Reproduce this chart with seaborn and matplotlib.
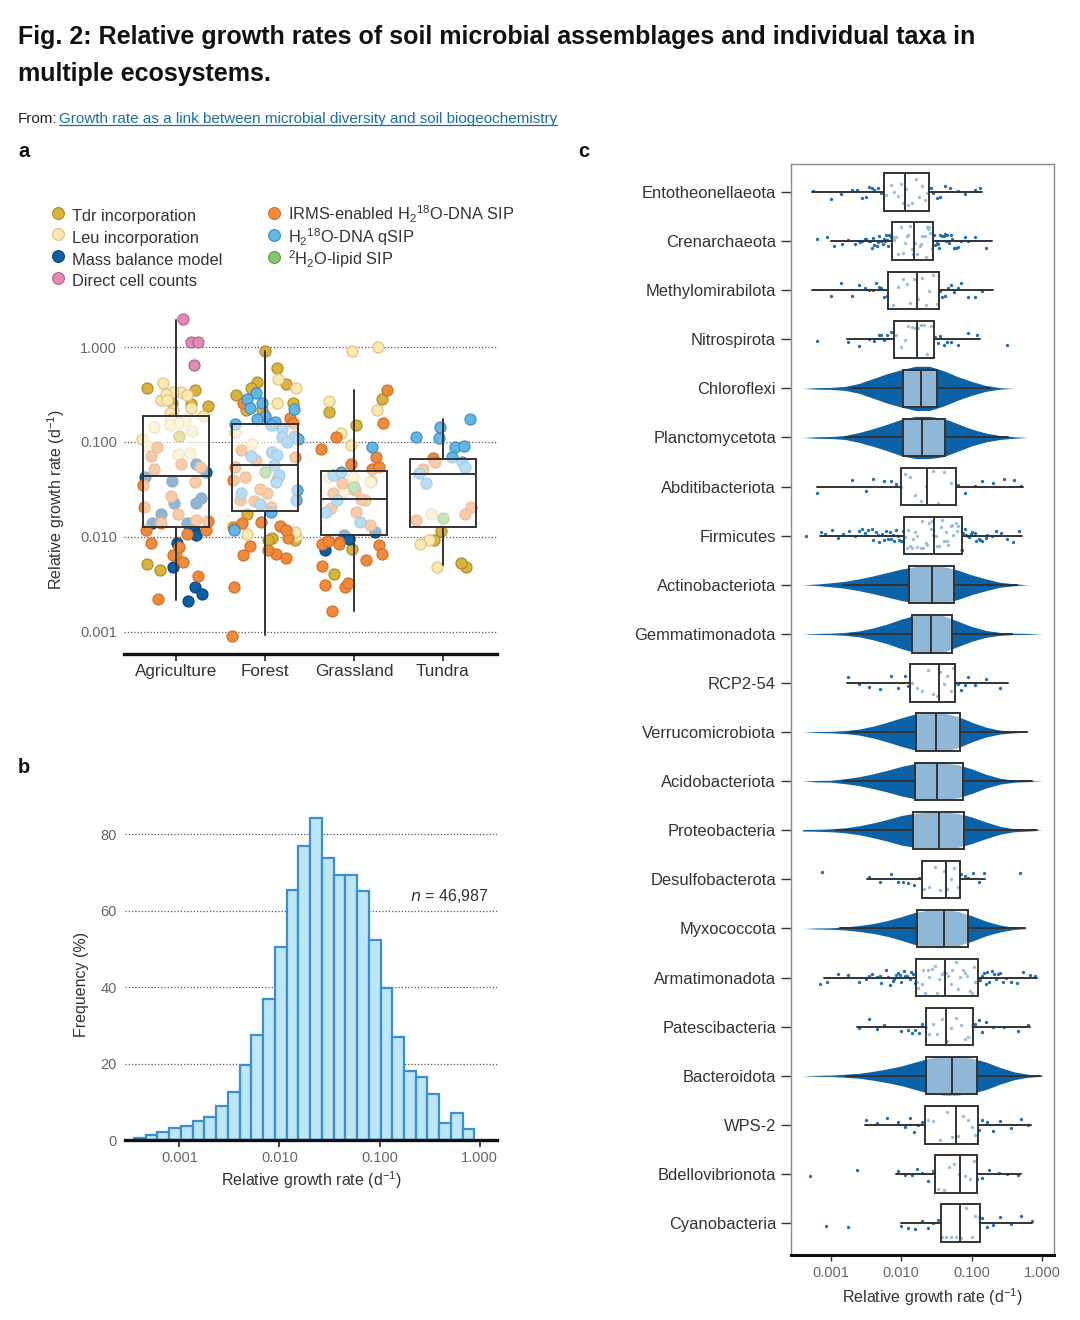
import numpy as np
import pandas as pd
import matplotlib
matplotlib.use("Agg")
import matplotlib.pyplot as plt
from matplotlib.lines import Line2D
from matplotlib.ticker import NullLocator
import seaborn as sns

# ---------------- panel a data (relative growth rate, d-1) ----------------
ecos = ["Agriculture", "Forest", "Grassland", "Tundra"]

tdr = {
    "Agriculture": [0.37, 0.35, 0.26, 0.25, 0.24, 0.117, 0.0064, 0.0052, 0.0045],
    "Forest": [0.908, 0.6, 0.41, 0.43, 0.31, 0.37, 0.26, 0.215, 0.215, 0.117,
               0.0127, 0.0097, 0.0093, 0.0175, 0.0093],
    "Grassland": [0.286, 0.207, 0.15, 0.039, 0.0244, 0.0075, 0.0041, 0.034, 0.031],
    "Tundra": [0.0116, 0.0094, 0.0048, 0.0053],
}
leu = {
    "Agriculture": [0.42, 0.34, 0.275, 0.34, 0.32, 0.31, 0.275, 0.215, 0.23, 0.2,
                    0.19, 0.144, 0.13, 0.16, 0.175, 0.17, 0.16, 0.15, 0.108, 0.091,
                    0.077, 0.074],
    "Forest": [0.465, 0.37, 0.26, 0.127, 0.096, 0.078, 0.0108, 0.0102, 0.0112],
    "Grassland": [1.0, 0.91, 0.215, 0.27, 0.125, 0.092, 0.038, 0.043, 0.043, 0.03],
    "Tundra": [0.0175, 0.0093, 0.0084, 0.0048],
}
mass = {
    "Agriculture": [0.039, 0.0112, 0.0104, 0.0087, 0.0048, 0.003, 0.0025, 0.0021,
                    0.058, 0.048, 0.043, 0.026, 0.0175, 0.023, 0.0228, 0.0133,
                    0.014, 0.014],
    "Forest": [],
    "Grassland": [0.0073, 0.0104, 0.0112, 0.0095],
    "Tundra": [],
}
direct = {"Agriculture": [1.96, 1.13, 1.13, 0.64], "Forest": [], "Grassland": [], "Tundra": []}
irms = {
    "Agriculture": [0.035, 0.027, 0.0064, 0.0118, 0.0078, 0.0055, 0.0039, 0.0118,
                    0.0086, 0.0022, 0.0108, 0.072, 0.088, 0.059, 0.052, 0.038,
                    0.054, 0.0205, 0.0175, 0.015, 0.0148, 0.0142],
    "Forest": [0.26, 0.18, 0.16, 0.043, 0.0145, 0.013, 0.0097, 0.0064, 0.0067,
               0.0118, 0.0073, 0.014, 0.012, 0.0081, 0.006, 0.003, 0.00091, 0.064,
               0.055, 0.082, 0.0395, 0.029, 0.043, 0.032, 0.0245, 0.024, 0.0206, 0.07],
    "Grassland": [0.355, 0.113, 0.085, 0.07, 0.158, 0.059, 0.052, 0.054, 0.0253,
                  0.0082, 0.0085, 0.0088, 0.0084, 0.009, 0.0067, 0.005, 0.0057,
                  0.0031, 0.003, 0.0033, 0.00166, 0.031, 0.0183, 0.037, 0.0135,
                  0.02, 0.029],
    "Tundra": [0.068, 0.062, 0.052, 0.0205, 0.0175, 0.015],
}
qsip = {
    "Agriculture": [],
    "Forest": [0.33, 0.284, 0.257, 0.23, 0.19, 0.225, 0.176, 0.162, 0.15, 0.138,
               0.155, 0.113, 0.113, 0.078, 0.072, 0.073, 0.0445, 0.038, 0.029,
               0.031, 0.0245, 0.022, 0.0183, 0.0119, 0.108, 0.1, 0.057],
    "Grassland": [0.088, 0.045, 0.048, 0.0244, 0.0145, 0.0183],
    "Tundra": [0.173, 0.144, 0.11, 0.113, 0.088, 0.09, 0.069, 0.037, 0.062, 0.047, 0.055],
}
lipid = {"Agriculture": [], "Forest": [0.048], "Grassland": [0.034], "Tundra": [0.016]}

# box statistics per ecosystem
a_wlo = [0.00215, 0.00092, 0.00166, 0.00503]
a_q1 = [0.0128, 0.0188, 0.0104, 0.0126]
a_med = [0.0435, 0.0577, 0.0251, 0.0457]
a_q3 = [0.189, 0.153, 0.0495, 0.0668]
a_whi = [1.94, 0.908, 0.356, 0.173]

# ---------------- panel b data ----------------
b_freq = [0.4, 1.3, 2.0, 3.1, 3.7, 5.0, 6.1, 9.0, 12.6, 19.6, 27.4, 36.8, 50.5,
          65.4, 77.1, 84.2, 73.9, 69.3, 69.5, 65.2, 52.4, 39.9, 26.9, 18.1, 16.5,
          12.0, 4.5, 7.0, 3.0]
b_first_edge = -3.453   # log10 of the first bin edge
b_bin_width = 0.1173    # bin width in log10 units

# ---------------- panel c data (log10 of growth rate) ----------------
taxa = ["Entotheonellaeota", "Crenarchaeota", "Methylomirabilota", "Nitrospirota",
        "Chloroflexi", "Planctomycetota", "Abditibacteriota", "Firmicutes",
        "Actinobacteriota", "Gemmatimonadota", "RCP2-54", "Verrucomicrobiota",
        "Acidobacteriota", "Proteobacteria", "Desulfobacterota", "Myxococcota",
        "Armatimonadota", "Patescibacteria", "Bacteroidota", "WPS-2",
        "Bdellovibrionota", "Cyanobacteria"]
c_wlo = [-3.26, -2.99, -3.26, -2.77, -2.73, -2.8, -3.19, -3.15, -2.82, -2.72, -2.77,
         -2.72, -2.82, -2.92, -2.49, -2.87, -3.1, -2.62, -2.78, -2.52, -2.07, -2.0]
c_q1 = [-2.25, -2.13, -2.19, -2.10, -1.98, -1.97, -2.01, -1.96, -1.89, -1.85, -1.88,
        -1.79, -1.81, -1.84, -1.70, -1.77, -1.79, -1.65, -1.65, -1.67, -1.52, -1.44]
c_med = [-1.95, -1.82, -1.78, -1.77, -1.72, -1.70, -1.63, -1.53, -1.57, -1.58, -1.47,
         -1.51, -1.50, -1.47, -1.37, -1.39, -1.38, -1.36, -1.28, -1.22, -1.17, -1.17]
c_q3 = [-1.60, -1.55, -1.46, -1.54, -1.49, -1.38, -1.22, -1.14, -1.25, -1.28, -1.24,
        -1.16, -1.13, -1.11, -1.16, -1.06, -0.91, -0.98, -0.93, -0.91, -0.92, -0.89]
c_whi = [-0.86, -0.72, -0.70, -0.89, -0.74, -0.49, -0.28, -0.29, -0.36, -0.43, -0.48,
         -0.22, -0.15, -0.08, -0.81, -0.24, -0.07, -0.17, -0.03, -0.16, -0.30, -0.14]

# individual taxa points for the less abundant phyla
pts_ento = [-3.25, -3.0, -2.86, -2.7, -2.62, -2.56, -2.5, -2.46, -2.41, -2.38, -2.33,
            -2.29, -2.22, -2.15, -2.1, -2.04, -2.0, -1.97, -1.93, -1.9, -1.85, -1.79,
            -1.75, -1.7, -1.66, -1.63, -1.58, -1.55, -1.5, -1.45, -1.38, -1.31, -1.2,
            -1.1, -0.96, -0.88]
pts_cren = [-3.2, -3.05, -2.95, -2.84, -2.75, -2.66, -2.6, -2.55, -2.5, -2.46, -2.42,
            -2.38, -2.35, -2.31, -2.28, -2.25, -2.22, -2.2, -2.17, -2.15, -2.1, -2.05,
            -2.0, -1.95, -1.92, -1.88, -1.85, -1.8, -1.77, -1.72, -1.7, -1.65, -1.62,
            -1.6, -1.57, -1.52, -1.5, -1.48, -1.45, -1.42, -1.38, -1.35, -1.3, -1.25,
            -1.2, -1.1, -0.95, -0.8, -2.58, -2.52, -2.44, -2.4, -2.33, -2.26, -2.23,
            -2.19, -2.12, -2.07, -1.98, -1.9, -1.83, -1.74, -1.67, -1.63, -1.59,
            -1.54, -1.49, -1.46, -1.4, -1.36, -1.32, -1.28, -1.22, -1.15, -1.05]
pts_meth = [-3.0, -2.85, -2.7, -2.6, -2.52, -2.45, -2.4, -2.36, -2.32, -2.28, -2.25,
            -2.2, -2.12, -2.05, -1.98, -1.92, -1.87, -1.82, -1.76, -1.7, -1.65, -1.6,
            -1.55, -1.5, -1.45, -1.42, -1.38, -1.33, -1.3, -1.25, -1.2, -1.15, -1.05,
            -0.95, -0.85]
pts_nitr = [-3.2, -2.75, -2.6, -2.45, -2.38, -2.32, -2.28, -2.24, -2.2, -2.15, -2.08,
            -2.0, -1.95, -1.9, -1.85, -1.8, -1.76, -1.72, -1.68, -1.63, -1.58, -1.52,
            -1.48, -1.45, -1.4, -1.35, -1.3, -1.2, -1.05, -0.92, -0.5]
pts_abdi = [-3.19, -2.7, -2.5, -2.4, -2.25, -2.15, -2.08, -2.0, -1.95, -1.88, -1.8,
            -1.72, -1.65, -1.55, -1.48, -1.4, -1.3, -1.2, -1.1, -0.95, -0.85, -0.7,
            -0.55, -0.4, -0.3]
pts_firm = [-3.35, -3.14, -3.08, -2.98, -2.9, -2.83, -2.74, -2.66, -2.6, -2.51, -2.47,
            -2.4, -2.36, -2.31, -2.27, -2.22, -2.19, -2.14, -2.1, -2.07, -2.03, -1.99,
            -1.95, -1.92, -1.87, -1.83, -1.8, -1.77, -1.72, -1.69, -1.65, -1.61, -1.58,
            -1.55, -1.51, -1.47, -1.44, -1.4, -1.37, -1.33, -1.29, -1.26, -1.22, -1.19,
            -1.15, -1.12, -1.08, -1.04, -0.99, -0.94, -0.9, -0.85, -0.78, -0.72, -0.66,
            -0.58, -0.5, -0.42, -0.33, -2.56, -2.42, -2.33, -2.24, -2.16, -2.11,
            -2.05, -2.01, -1.97, -1.9, -1.85, -1.78, -1.7, -1.63, -1.56, -1.49, -1.42,
            -1.35, -1.28, -1.21, -1.14, -1.1, -1.06, -1.01, -0.96, -0.88, -0.8]
pts_rcp2 = [-2.75, -2.6, -2.45, -2.3, -2.15, -2.05, -1.95, -1.9, -1.85, -1.78, -1.7,
            -1.62, -1.55, -1.5, -1.45, -1.4, -1.35, -1.3, -1.27, -1.24, -1.2, -1.15,
            -1.1, -1.05, -0.95, -0.8, -0.6]
pts_desu = [-3.13, -2.45, -2.3, -2.15, -2.05, -1.98, -1.9, -1.82, -1.75, -1.68, -1.6,
            -1.52, -1.45, -1.4, -1.35, -1.3, -1.25, -1.2, -1.15, -1.1, -1.05, -0.98,
            -0.9, -0.82, -0.32]
pts_arma = [-3.15, -3.05, -2.9, -2.75, -2.6, -2.5, -2.42, -2.35, -2.28, -2.22, -2.16,
            -2.1, -2.05, -2.0, -1.96, -1.92, -1.88, -1.84, -1.8, -1.76, -1.71, -1.66,
            -1.62, -1.57, -1.52, -1.47, -1.42, -1.37, -1.33, -1.28, -1.22, -1.17,
            -1.12, -1.07, -1.02, -0.97, -0.93, -0.88, -0.83, -0.78, -0.72, -0.66,
            -0.6, -0.52, -0.44, -0.36, -0.27, -0.18, -0.1, -2.45, -2.3, -2.19,
            -2.12, -2.07, -2.02, -1.94, -1.86, -1.78, -1.69, -1.6, -1.5, -1.4, -1.3,
            -1.2, -1.1, -1.0, -0.95, -0.9, -0.85, -0.8, -0.75, -0.69, -0.63, -0.56]
pts_pate = [-2.6, -2.45, -2.35, -2.25, -2.0, -1.9, -1.85, -1.8, -1.75, -1.7, -1.65,
            -1.6, -1.55, -1.5, -1.42, -1.35, -1.3, -1.22, -1.15, -1.1, -1.05, -1.0,
            -0.95, -0.9, -0.85, -0.8, -0.7, -0.55, -0.35, -0.2]
pts_wps2 = [-2.5, -2.35, -2.2, -2.05, -1.95, -1.88, -1.82, -1.76, -1.7, -1.62, -1.55,
            -1.45, -1.35, -1.28, -1.2, -1.12, -1.05, -1.0, -0.95, -0.9, -0.85, -0.78,
            -0.7, -0.6, -0.45, -0.3, -0.2]
pts_bdel = [-3.3, -2.62, -2.05, -1.95, -1.85, -1.78, -1.7, -1.62, -1.55, -1.48, -1.4,
            -1.32, -1.25, -1.18, -1.1, -1.03, -0.97, -0.92, -0.85, -0.75, -0.62, -0.5,
            -0.35]
pts_cyan = [-3.07, -2.76, -2.0, -1.9, -1.8, -1.7, -1.62, -1.55, -1.48, -1.42, -1.36,
            -1.3, -1.22, -1.15, -1.08, -1.0, -0.95, -0.9, -0.85, -0.78, -0.7, -0.6,
            -0.45, -0.3, -0.15]

sparse = {"Entotheonellaeota": pts_ento, "Crenarchaeota": pts_cren,
          "Methylomirabilota": pts_meth, "Nitrospirota": pts_nitr,
          "Abditibacteriota": pts_abdi, "Firmicutes": pts_firm, "RCP2-54": pts_rcp2,
          "Desulfobacterota": pts_desu, "Armatimonadota": pts_arma,
          "Patescibacteria": pts_pate, "WPS-2": pts_wps2,
          "Bdellovibrionota": pts_bdel, "Cyanobacteria": pts_cyan}

# half-width of the dense point clouds (category units) along the log10 grid
cloud_grid = [-3.4, -3.2, -3.0, -2.8, -2.6, -2.4, -2.2, -2.0, -1.8, -1.6, -1.4,
              -1.2, -1.0, -0.8, -0.6, -0.4, -0.2, 0.0]
w_chlo = [0, 0.015, 0.02, 0.04, 0.1, 0.2, 0.3, 0.38, 0.45, 0.45, 0.36, 0.24, 0.14, 0.06, 0.015, 0, 0, 0]
w_plan = [0, 0.015, 0.02, 0.04, 0.1, 0.18, 0.27, 0.37, 0.43, 0.43, 0.39, 0.28, 0.17, 0.09, 0.04, 0.015, 0, 0]
w_acti = [0, 0.015, 0.04, 0.07, 0.12, 0.18, 0.25, 0.32, 0.37, 0.38, 0.37, 0.3, 0.2, 0.12, 0.05, 0.02, 0, 0]
w_gemm = [0, 0.01, 0.015, 0.03, 0.06, 0.12, 0.2, 0.3, 0.38, 0.4, 0.37, 0.26, 0.15, 0.07, 0.03, 0.015, 0.01, 0]
w_verr = [0, 0.01, 0.015, 0.03, 0.06, 0.12, 0.2, 0.29, 0.37, 0.39, 0.39, 0.32, 0.2, 0.1, 0.04, 0.015, 0, 0]
w_acid = [0, 0.015, 0.02, 0.05, 0.09, 0.15, 0.22, 0.3, 0.36, 0.37, 0.37, 0.34, 0.25, 0.14, 0.06, 0.02, 0.01, 0]
w_prot = [0.015, 0.02, 0.03, 0.05, 0.09, 0.15, 0.22, 0.3, 0.35, 0.37, 0.37, 0.35, 0.27, 0.17, 0.08, 0.03, 0.015, 0]
w_myxo = [0, 0.01, 0.015, 0.03, 0.06, 0.1, 0.16, 0.24, 0.33, 0.38, 0.39, 0.35, 0.26, 0.15, 0.07, 0.02, 0, 0]
w_bact = [0, 0.01, 0.015, 0.03, 0.05, 0.09, 0.14, 0.2, 0.28, 0.36, 0.39, 0.39, 0.36, 0.28, 0.17, 0.08, 0.03, 0.01]

dense = {"Chloroflexi": w_chlo, "Planctomycetota": w_plan, "Actinobacteriota": w_acti,
         "Gemmatimonadota": w_gemm, "Verrucomicrobiota": w_verr,
         "Acidobacteriota": w_acid, "Proteobacteria": w_prot, "Myxococcota": w_myxo,
         "Bacteroidota": w_bact}

# ---------------- style ----------------
sns.set_theme(style="white")
plt.rcParams["font.family"] = ["Liberation Sans", "DejaVu Sans"]
plt.rcParams["mathtext.default"] = "regular"
plt.rcParams["text.color"] = "#333333"
plt.rcParams["axes.labelcolor"] = "#333333"

W, H = 1080, 1320
def fx(px):
    return px / W
def fy(py):
    return 1 - py / H

fig = plt.figure(figsize=(10.8, 13.2), dpi=100)
fig.patch.set_facecolor("white")

box_kw = dict(patch_artist=True, showfliers=False, showcaps=False, manage_ticks=False,
              boxprops=dict(facecolor=(1, 1, 1, 0.55), edgecolor="#333333", linewidth=1.4),
              whiskerprops=dict(color="#333333", linewidth=1.4),
              medianprops=dict(color="#333333", linewidth=1.4))

# ================= panel a =================
ax_a = fig.add_axes([fx(124), fy(654), fx(373), 354 / H])
methods = [
    ("Tdr incorporation", "#d9b43c", "#a98a22", tdr),
    ("Leu incorporation", "#fbe8b2", "#dcc27a", leu),
    ("Mass balance model", "#0b5fa5", "#07457a", mass),
    ("Direct cell counts", "#e08ab4", "#b5628a", direct),
    (r"IRMS-enabled H$_2$$^{18}$O-DNA SIP", "#f28a3c", "#d06d24", irms),
    (r"H$_2$$^{18}$O-DNA qSIP", "#64b4e6", "#3a8cc6", qsip),
    (r"$^2$H$_2$O-lipid SIP", "#86c56d", "#5c9c48", lipid),
]
np.random.seed(7)
handles = []
for label, face, edge, data in methods:
    xs, ys = [], []
    for e in ecos:
        xs += [e] * len(data[e])
        ys += data[e]
    sns.stripplot(x=xs, y=ys, order=ecos, ax=ax_a, color=face, edgecolor=edge,
                  linewidth=0.8, size=8, jitter=0.38, log_scale=True, zorder=2)
    handles.append(Line2D([], [], ls="", marker="o", markersize=8.5,
                          markerfacecolor=face, markeredgecolor=edge,
                          markeredgewidth=0.8, label=label))

a_stats = [dict(whislo=a_wlo[i], q1=a_q1[i], med=a_med[i], q3=a_q3[i],
                whishi=a_whi[i]) for i in range(len(ecos))]
ax_a.bxp(a_stats, positions=range(len(ecos)), widths=0.75, zorder=3, **box_kw)

ax_a.set_yscale("log")
ax_a.set_ylim(10 ** -3.232, 10 ** 0.495)
ax_a.set_xlim(-0.584, 3.607)
ax_a.set_yticks([0.001, 0.01, 0.1, 1])
ax_a.set_yticklabels(["0.001", "0.010", "0.100", "1.000"])
ax_a.yaxis.set_minor_locator(NullLocator())
ax_a.set_xticks(range(len(ecos)))
ax_a.set_xticklabels(ecos)
ax_a.grid(axis="y", linestyle=(0, (1, 1.6)), color="#555555", linewidth=0.9)
ax_a.grid(axis="x", visible=False)
ax_a.set_axisbelow(True)
ax_a.tick_params(axis="y", length=0, pad=5, labelsize=10.5, labelcolor="#666666")
ax_a.tick_params(axis="x", bottom=True, length=5, width=1.2, color="#222222",
                 labelsize=12.3, pad=2, labelcolor="#333333")
for s in ["left", "right", "top"]:
    ax_a.spines[s].set_visible(False)
ax_a.spines["bottom"].set_linewidth(2.4)
ax_a.spines["bottom"].set_color("#111111")
ax_a.set_xlabel("")
ax_a.set_ylabel("Relative growth rate (d$^{-1}$)", fontsize=11.5)
ax_a.yaxis.set_label_coords(-0.153, 0.435)

fig.legend(handles=handles, ncol=2, loc="upper left",
           bbox_to_anchor=(fx(51), fy(204)), frameon=False, fontsize=11.8,
           handlelength=0.9, handleheight=1.68, handletextpad=0.4,
           labelspacing=0.0, columnspacing=2.7, borderaxespad=0, borderpad=0)

# ================= panel b =================
ax_b = fig.add_axes([fx(125), fy(1140), fx(372), 330 / H])
b_edges = [b_first_edge + b_bin_width * k for k in range(len(b_freq) + 1)]
b_df = pd.DataFrame({"rate": [e + b_bin_width / 2 for e in b_edges[:-1]],
                     "freq": b_freq})
sns.histplot(data=b_df, x="rate", weights="freq", bins=b_edges, ax=ax_b,
             color="#bde6f8", facecolor="#bde6f8", edgecolor="#3b8ed0",
             linewidth=1.6, alpha=1, zorder=2)
ax_b.set_xlim(-3.543, 0.174)
ax_b.set_ylim(0, 86.4)
ax_b.set_xticks([-3, -2, -1, 0])
ax_b.set_xticklabels(["0.001", "0.010", "0.100", "1.000"])
ax_b.set_yticks([0, 20, 40, 60, 80])
ax_b.grid(axis="y", linestyle=(0, (1, 1.6)), color="#555555", linewidth=0.9)
ax_b.grid(axis="x", visible=False)
ax_b.set_axisbelow(True)
ax_b.tick_params(axis="y", length=0, pad=6, labelsize=10.5, labelcolor="#666666")
ax_b.tick_params(axis="x", bottom=True, length=5, width=1.2, color="#222222",
                 labelsize=10.5, pad=3, labelcolor="#666666")
for s in ["left", "right", "top"]:
    ax_b.spines[s].set_visible(False)
ax_b.spines["bottom"].set_linewidth(2.4)
ax_b.spines["bottom"].set_color("#111111")
ax_b.set_xlabel("Relative growth rate (d$^{-1}$)", fontsize=11.5, labelpad=3)
ax_b.set_ylabel("Frequency (%)", fontsize=11.5)
ax_b.yaxis.set_label_coords(-0.097, 0.47)
ax_b.text(-0.693, 63.9, "$\\mathit{n}$ = 46,987", fontsize=11.5, ha="left",
          va="center", color="#333333")

# ================= panel c =================
ax_c = fig.add_axes([fx(790.7), fy(1255), fx(263.6), 1091 / H])
pt_color = "#1f6fb4"
in_x, in_y, out_x, out_y = [], [], [], []
for i, t in enumerate(taxa):
    if t not in sparse:
        continue
    for v in sparse[t]:
        if c_q1[i] <= v <= c_q3[i]:
            in_x.append(10 ** v)
            in_y.append(t)
        else:
            out_x.append(10 ** v)
            out_y.append(t)
sns.stripplot(x=in_x, y=in_y, order=taxa, orient="h", ax=ax_c, color=pt_color,
              size=2.4, linewidth=0, jitter=0.33, log_scale=True, zorder=2)
sns.stripplot(x=out_x, y=out_y, order=taxa, orient="h", ax=ax_c, color=pt_color,
              size=2.4, linewidth=0, jitter=0.15, log_scale=True, zorder=2)

gx = 10 ** np.array(cloud_grid)
for i, t in enumerate(taxa):
    if t in dense:
        w = np.array(dense[t])
        ax_c.fill_between(gx, i - w, i + w, color="#0b62a6", linewidth=0, zorder=1)

c_stats = [dict(whislo=10 ** c_wlo[i], q1=10 ** c_q1[i], med=10 ** c_med[i],
                q3=10 ** c_q3[i], whishi=10 ** c_whi[i]) for i in range(len(taxa))]
ax_c.bxp(c_stats, positions=range(len(taxa)), widths=0.76, orientation="horizontal",
         zorder=3, **box_kw)

ax_c.set_xscale("log")
ax_c.set_xlim(10 ** -3.567, 10 ** 0.17)
ax_c.set_ylim(21.65, -0.57)
ax_c.set_yticks(range(len(taxa)))
ax_c.set_yticklabels(taxa)
ax_c.set_xticks([0.001, 0.01, 0.1, 1])
ax_c.set_xticklabels(["0.001", "0.010", "0.100", "1.000"])
ax_c.xaxis.set_minor_locator(NullLocator())
ax_c.grid(False)
ax_c.tick_params(axis="y", left=True, length=7, width=1, color="#333333",
                 labelsize=11.9, pad=3.5, labelcolor="#333333")
ax_c.tick_params(axis="x", bottom=True, length=4, width=1, color="#333333",
                 labelsize=10.5, pad=4, labelcolor="#666666")
for s in ["left", "right", "top"]:
    ax_c.spines[s].set_color("#8a8a8a")
    ax_c.spines[s].set_linewidth(1.0)
ax_c.spines["bottom"].set_linewidth(2.2)
ax_c.spines["bottom"].set_color("#111111")
ax_c.set_ylabel("")
ax_c.set_xlabel("Relative growth rate (d$^{-1}$)", fontsize=11.5, labelpad=4)
ax_c.xaxis.set_label_coords(0.536, -0.029)

# ================= titles and panel letters =================
title_font = ["Liberation Sans Narrow", "Liberation Sans", "DejaVu Sans"]
fig.text(fx(18), fy(44), "Fig. 2: Relative growth rates of soil microbial assemblages and individual taxa in",
         fontsize=18.0, fontweight="bold", family=title_font, color="#111111", va="baseline")
fig.text(fx(18), fy(81), "multiple ecosystems.",
         fontsize=18.0, fontweight="bold", family=title_font, color="#111111", va="baseline")
fig.text(fx(18), fy(123), "From:", fontsize=11, family=title_font,
         color="#222222", va="baseline")
link = fig.text(fx(59), fy(123),
                "Growth rate as a link between microbial diversity and soil biogeochemistry",
                fontsize=11, family=title_font, color="#1a6ea8", va="baseline")
for letter, px, py in [("a", 18, 157), ("c", 578, 157), ("b", 18, 773)]:
    fig.text(fx(px), fy(py), letter, fontsize=14.5, fontweight="bold",
             color="#111111", va="baseline")

fig.canvas.draw()
bb = link.get_window_extent()
fig.add_artist(Line2D([bb.x0 / W, bb.x1 / W], [(bb.y0 + 1) / H] * 2,
                      transform=fig.transFigure, color="#1a6ea8", linewidth=0.9))

fig.savefig("out.png", dpi=100, facecolor="white")
